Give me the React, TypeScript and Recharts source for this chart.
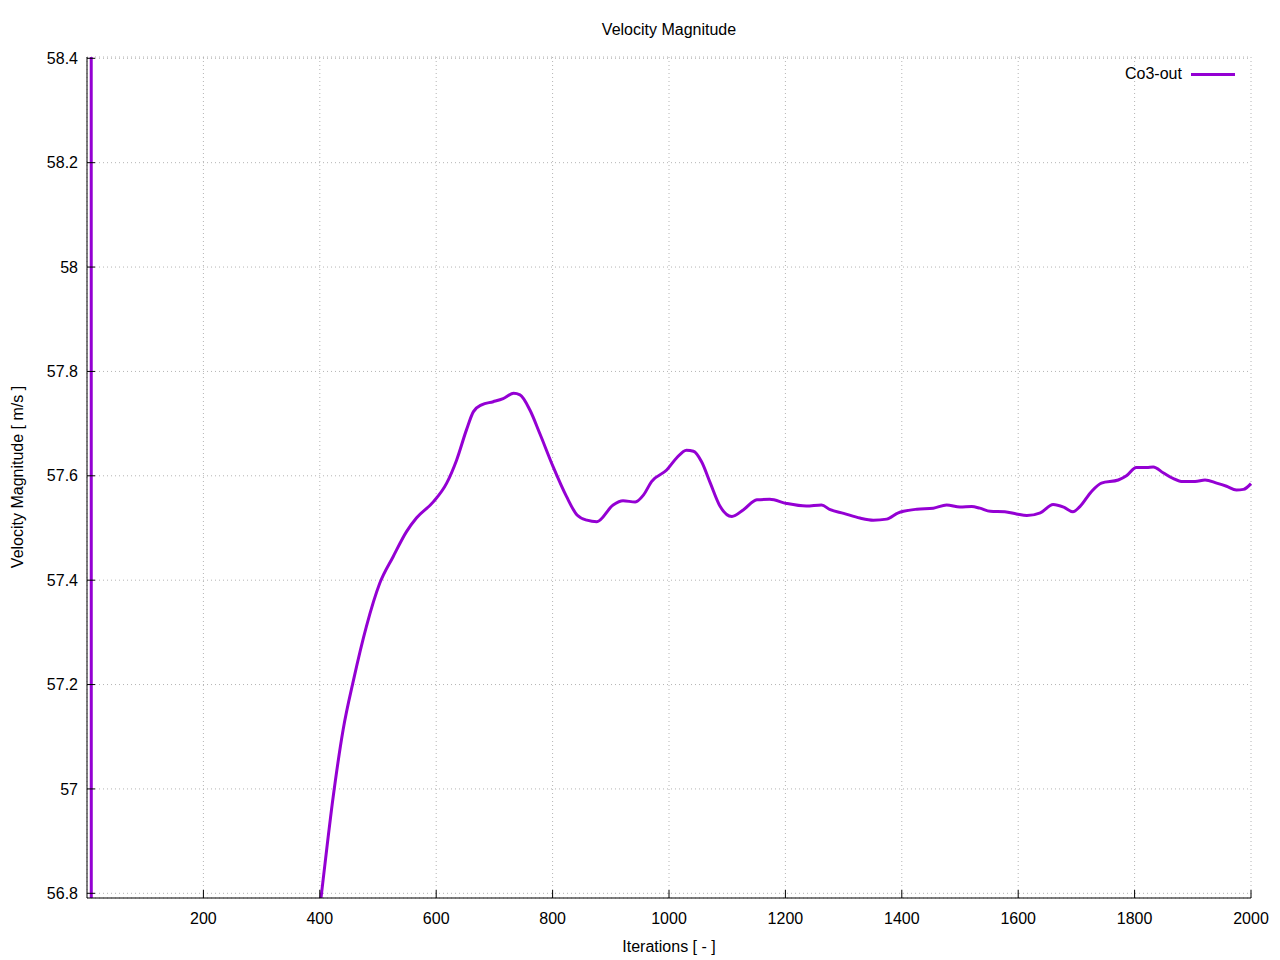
import React from "react"
import { LineChart, Line, XAxis, YAxis, CartesianGrid, Legend } from "recharts"

const ITERATIONS = [
  7, 8, 60, 150, 250, 330, 380,
  403, 423, 440, 458, 480, 503, 526, 549, 566, 595, 618, 635, 652, 664, 678, 698, 715, 733, 744,
  761, 778, 801, 824, 842, 859, 876, 904, 921, 942, 956, 970, 996, 1013, 1030, 1042, 1056, 1071,
  1088, 1108, 1128, 1151, 1173, 1202, 1236, 1262, 1277, 1300, 1328, 1351, 1374, 1394, 1403, 1426,
  1454, 1477, 1500, 1520, 1534, 1552, 1577, 1597, 1615, 1638, 1660, 1678, 1694, 1706, 1726, 1743,
  1772, 1786, 1803, 1821, 1832, 1849, 1866, 1883, 1904, 1921, 1941, 1958, 1975, 1987, 2000,
]
const VELOCITY = [
  62.0, 48.0, 51.0, 53.5, 55.1, 56.05, 56.58,
  56.8, 56.985, 57.113, 57.209, 57.311, 57.394, 57.445, 57.493, 57.519, 57.55, 57.586, 57.63, 57.688,
  57.723, 57.736, 57.742, 57.748, 57.758, 57.755,
  57.726, 57.681, 57.617, 57.56, 57.525, 57.515, 57.512, 57.544, 57.552, 57.55, 57.563, 57.589,
  57.611, 57.634, 57.649, 57.647, 57.627, 57.586,
  57.541, 57.522, 57.535, 57.554, 57.555, 57.547, 57.542, 57.544, 57.535, 57.528, 57.519, 57.515,
  57.517, 57.529, 57.532, 57.536,
  57.538, 57.544, 57.54, 57.541, 57.538, 57.532, 57.531, 57.527, 57.524, 57.529, 57.545, 57.54,
  57.531, 57.541, 57.57, 57.586,
  57.592, 57.6, 57.616, 57.616, 57.617, 57.606, 57.595, 57.589, 57.589, 57.592, 57.586, 57.58,
  57.573, 57.574, 57.585,
]
const X_TICKS = [200, 400, 600, 800, 1000, 1200, 1400, 1600, 1800, 2000]
const Y_TICKS = [56.8, 57, 57.2, 57.4, 57.6, 57.8, 58, 58.2, 58.4]

const FONT = '"Liberation Sans", Arial, sans-serif'
const PURPLE = "#9400D3"

const data = ITERATIONS.map((it, i) => ({ iter: it, v: VELOCITY[i] }))

function LegendBox() {
  return (
    <div style={{ display: "flex", alignItems: "center", fontFamily: FONT, fontSize: 16, color: "#000" }}>
      <span>Co3-out</span>
      <span style={{ display: "inline-block", width: 44, height: 3, background: PURPLE, marginLeft: 9 }} />
    </div>
  )
}

export default function App() {
  const xTick = { fill: "#000", fontSize: 16, fontFamily: FONT }
  const yTick = { fill: "#000", fontSize: 16, fontFamily: FONT, dy: "0.42em" }
  return (
    <div style={{ position: "absolute", left: 0, top: 0, width: 1280, height: 960, background: "#fff", fontFamily: FONT }}>
      <div style={{ position: "absolute", left: 0, width: 1338, top: 20, textAlign: "center", fontSize: 16, lineHeight: "20px" }}>
        Velocity Magnitude
      </div>
      <div style={{ position: "absolute", left: 0, width: 1338, top: 937, textAlign: "center", fontSize: 16, lineHeight: "20px" }}>
        Iterations [ - ]
      </div>
      <div
        style={{
          position: "absolute", left: 18, top: 477, width: 400, marginLeft: -200, marginTop: -10,
          textAlign: "center", fontSize: 16, lineHeight: "20px", transform: "rotate(-90deg)",
        }}
      >
        Velocity Magnitude [ m/s ]
      </div>
      <LineChart width={1280} height={960} data={data} margin={{ top: 57, right: 29, bottom: 0, left: 0 }}>
        <CartesianGrid stroke="#b4b4b4" strokeDasharray="1 3" />
        <XAxis
          dataKey="iter" type="number" domain={[0, 2000]} ticks={X_TICKS} interval={0}
          height={62} tickSize={-8} tickMargin={23} tick={xTick}
          axisLine={{ stroke: "#000" }} tickLine={{ stroke: "#000" }}
        />
        <XAxis
          xAxisId="top" orientation="top" dataKey="iter" type="number" domain={[0, 2000]}
          ticks={X_TICKS} interval={0} height={0} tickSize={-8} tick={false}
          axisLine={{ stroke: "#000" }} tickLine={{ stroke: "#000" }}
        />
        <YAxis
          type="number" domain={[56.791, 58.4025]} allowDataOverflow ticks={Y_TICKS} interval={0}
          width={87} tickSize={-8} tickMargin={17} tick={yTick}
          tickFormatter={(v: number) => String(Number(v.toFixed(1)))}
          axisLine={{ stroke: "#000" }} tickLine={{ stroke: "#000" }}
        />
        <YAxis
          yAxisId="right" orientation="right" type="number" domain={[56.791, 58.4025]} allowDataOverflow
          ticks={Y_TICKS} interval={0} width={0} tickSize={-8} tick={false}
          axisLine={{ stroke: "#000" }} tickLine={{ stroke: "#000" }}
        />
        <Legend
          layout="vertical" align="center" verticalAlign="middle"
          wrapperStyle={{ left: 1125, top: 65, width: 120 }}
          content={() => <LegendBox />}
        />
        <Line
          type="monotone" dataKey="v" stroke={PURPLE} strokeWidth={3} dot={false} activeDot={false}
          isAnimationActive={false}
        />
      </LineChart>
    </div>
  )
}
